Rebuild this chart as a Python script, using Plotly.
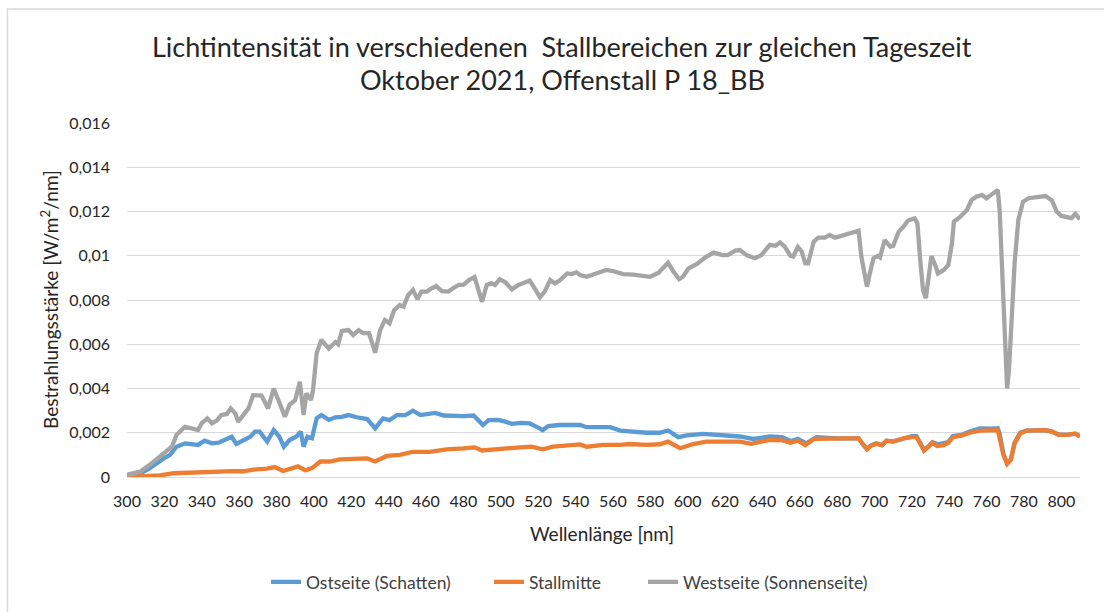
import plotly.graph_objects as go

# ---------------- data ----------------
wl_west = [300, 307, 312, 317.5, 321, 324, 326.5, 331, 334.5, 338, 340, 343, 345.5, 348, 350.5,
           353.5, 355.5, 358, 359.5, 362.5, 365, 367.5, 372, 375.5, 378.5, 381, 384.5, 387, 390,
           392.5, 394.5, 396, 398.5, 399.5, 401.5, 404, 408, 411.5, 413, 415, 418.5, 421, 424,
           426.5, 429.5, 432.8, 435.5, 438, 440.5, 443, 446, 448, 450.5, 453, 455.5, 457.5, 460.5,
           462.5, 465.5, 468.5, 472, 474.5, 477.5, 480, 483, 486, 488, 490, 492.5, 495, 497, 499.5,
           502.5, 506, 509.5, 512.5, 515.5, 518.5, 521, 523.5, 526.5, 529, 531.5, 535.5, 538, 540.5,
           542.5, 546, 551.5, 556.5, 560.5, 565.5, 571, 576.5, 580, 584.5, 587.5, 589.5, 592.5,
           595.5, 597.5, 600.5, 605, 609.5, 614, 618.5, 621.5, 625.5, 628, 631.5, 636, 639.5, 644,
           647, 649.5, 652, 655, 656.5, 659, 661, 663, 664.5, 667.5, 670, 673.5, 676, 679, 682.5,
           687, 691.5, 693, 695, 696, 697.5, 699.5, 702, 703, 705.5, 708.5, 710, 713, 715.5, 718,
           721.5, 723, 724.5, 726, 727.5, 729, 730.5, 732.5, 734, 737, 739.5, 741.5, 742.5, 746,
           749.5, 752, 754.5, 757.5, 760, 763.5, 766, 767, 768.5, 770, 771, 772, 773.5, 775, 777,
           779.5, 782.5, 787, 791.5, 795, 797.5, 800, 803, 805.5, 807.5, 809, 810]
west = [0.0001, 0.00024, 0.00054, 0.00092, 0.00117, 0.00137, 0.0019, 0.00227, 0.0022, 0.00212,
        0.00243, 0.00265, 0.00243, 0.00255, 0.0028, 0.00285, 0.0031, 0.00287, 0.0025, 0.00287,
        0.0031, 0.0037, 0.00368, 0.0031, 0.004, 0.00348, 0.00273, 0.00326, 0.00348, 0.0043,
        0.0028, 0.00378, 0.00348, 0.0039, 0.0056, 0.0062, 0.0058, 0.0061, 0.006, 0.0066, 0.00664,
        0.00642, 0.00664, 0.0065, 0.0065, 0.00562, 0.00664, 0.0071, 0.00695, 0.00755, 0.00777,
        0.0077, 0.00823, 0.00845, 0.00803, 0.00838, 0.00838, 0.0085, 0.00863, 0.0084, 0.00838,
        0.00853, 0.00868, 0.00868, 0.0089, 0.00903, 0.00838, 0.00792, 0.00868, 0.00875, 0.00868,
        0.00894, 0.0088, 0.00848, 0.00868, 0.0088, 0.00888, 0.00848, 0.00812, 0.00838, 0.0089,
        0.00875, 0.00888, 0.0092, 0.00917, 0.00925, 0.00913, 0.00905, 0.00923, 0.00936, 0.0093,
        0.00917, 0.00915, 0.0091, 0.00905, 0.00923, 0.0095, 0.00968, 0.00928, 0.00894, 0.00905,
        0.00943, 0.00963, 0.00993, 0.01014, 0.01003, 0.01003, 0.01023, 0.01026, 0.01003, 0.00989,
        0.01003, 0.01049, 0.01045, 0.0106, 0.01041, 0.01, 0.00996, 0.0104, 0.0102, 0.00966,
        0.00966, 0.01064, 0.01082, 0.01082, 0.01094, 0.01082, 0.0109, 0.01101, 0.01113, 0.00996,
        0.00898, 0.0086, 0.0092, 0.00989, 0.01, 0.00993, 0.01071, 0.01041, 0.01044, 0.01109,
        0.01131, 0.01159, 0.01169, 0.01147, 0.0098, 0.00845, 0.00808, 0.00905, 0.00999, 0.00958,
        0.0092, 0.00935, 0.00958, 0.01056, 0.01154, 0.01177, 0.01207, 0.01252, 0.01267, 0.01275,
        0.0126, 0.01282, 0.01297, 0.01207, 0.0086, 0.00544, 0.004, 0.00484, 0.0071, 0.00966,
        0.01162, 0.01244, 0.0126, 0.01267, 0.0127, 0.0125, 0.012, 0.0118, 0.01177, 0.0117,
        0.0119, 0.01177, 0.01165]

wl_ost = [300, 307, 312, 316, 319.5, 323, 326.5, 331, 334.5, 338, 341.5, 345.5, 349, 352.5, 356,
          358.5, 362.5, 366, 368.5, 371, 375, 378.5, 381.5, 384, 387, 390.5, 393, 394.5, 396.5,
          399, 401.5, 404, 408, 411.5, 415, 418.5, 423, 428.5, 432.8, 437, 440.5, 444.5, 449, 453,
          457, 460.5, 465, 469.5, 474.5, 480, 485.5, 488, 490.5, 493.5, 498.5, 502.5, 506, 510.5,
          515.5, 519, 522.5, 525.5, 531.5, 538.5, 542.5, 546, 552, 558.5, 564, 571, 578, 585,
          589.5, 595, 599.5, 608.5, 617, 628, 635, 644, 650.5, 655.5, 659, 663.5, 669, 676, 680,
          685, 691.5, 694, 696, 698.5, 701, 704, 706.5, 710, 715.5, 720, 722.5, 724.5, 726.5, 729,
          731, 734, 737, 739.5, 742, 746.5, 751, 756.5, 762, 766, 767, 769, 771, 773, 775, 778,
          781.5, 787, 791.5, 795, 798.5, 803, 807.5, 810]
ost = [0.00008, 0.00015, 0.00039, 0.00065, 0.00083, 0.001, 0.00137, 0.00152, 0.00149, 0.00145,
       0.00164, 0.00152, 0.00155, 0.00168, 0.00182, 0.00149, 0.00168, 0.00182, 0.00205, 0.00205,
       0.0016, 0.00212, 0.00182, 0.00137, 0.00167, 0.00182, 0.00205, 0.00137, 0.00182, 0.00175,
       0.00265, 0.0028, 0.00258, 0.0027, 0.00272, 0.0028, 0.0027, 0.00262, 0.0022, 0.00265,
       0.00257, 0.0028, 0.0028, 0.003, 0.0028, 0.00285, 0.0029, 0.00278, 0.00275, 0.00275,
       0.00278, 0.00257, 0.00235, 0.00257, 0.00258, 0.0025, 0.0024, 0.00245, 0.00242, 0.00228,
       0.00212, 0.0023, 0.00235, 0.00235, 0.00235, 0.00225, 0.00227, 0.00225, 0.0021, 0.00205,
       0.002, 0.002, 0.0021, 0.0018, 0.00188, 0.00195, 0.0019, 0.00183, 0.00172, 0.00183, 0.0018,
       0.00162, 0.00172, 0.00152, 0.0018, 0.00175, 0.00175, 0.00175, 0.00175, 0.00144, 0.00128,
       0.00144, 0.00152, 0.00144, 0.00164, 0.0016, 0.00175, 0.00185, 0.00185, 0.00155, 0.00122,
       0.0014, 0.00157, 0.00148, 0.00152, 0.00158, 0.00185, 0.0019, 0.00205, 0.0022, 0.00218,
       0.0022, 0.00195, 0.00105, 0.00062, 0.0008, 0.00155, 0.002, 0.0021, 0.00212, 0.00212,
       0.00205, 0.00192, 0.0019, 0.00195, 0.00185]

wl_mitte = [300, 310.5, 317.5, 325, 332, 341, 350, 357, 362.5, 367.5, 375, 379, 383.5, 387, 391.5,
            395.5, 399, 403.5, 408.5, 414, 421, 428.5, 432.8, 439, 446, 453, 462, 471, 480, 486,
            490, 496, 503, 510.5, 516.5, 522.5, 528, 535.5, 542.5, 546, 555, 564, 569, 578, 585,
            589.5, 596, 603, 610, 621, 628, 634, 644, 650.5, 655, 659, 663, 667.5, 676, 685, 691.5,
            694, 696, 698.5, 701, 704, 706.5, 710, 715.5, 720, 722.5, 724.5, 726.5, 729, 731, 733.5,
            737, 739.5, 742, 746.5, 751, 756.5, 762, 766, 767, 769, 771, 773, 775, 778, 781.5, 787,
            791.5, 795, 798.5, 803, 807.5, 810]
mitte = [0.0, 0.00002, 0.00007, 0.00017, 0.0002, 0.00023, 0.00023, 0.00027, 0.00026, 0.00033,
         0.00038, 0.00045, 0.00027, 0.00038, 0.00048, 0.0003, 0.0004, 0.0007, 0.0007, 0.0008,
         0.00084, 0.00084, 0.0007, 0.00095, 0.001, 0.00114, 0.00114, 0.00125, 0.00129, 0.00134,
         0.0012, 0.00125, 0.00129, 0.00134, 0.00137, 0.00125, 0.00137, 0.00144, 0.00147, 0.00137,
         0.00145, 0.00145, 0.00149, 0.00145, 0.00148, 0.0016, 0.0013, 0.00149, 0.0016, 0.0016,
         0.0016, 0.0015, 0.00168, 0.00166, 0.00155, 0.00164, 0.00144, 0.00172, 0.00175, 0.00175,
         0.00175, 0.00144, 0.00125, 0.00144, 0.0015, 0.00144, 0.00164, 0.0016, 0.00175, 0.0018,
         0.0018, 0.0015, 0.00119, 0.00137, 0.00155, 0.0014, 0.00144, 0.00155, 0.0018, 0.00187,
         0.002, 0.0021, 0.0021, 0.00212, 0.00175, 0.001, 0.00059, 0.00077, 0.00152, 0.00197,
         0.0021, 0.0021, 0.00212, 0.00205, 0.0019, 0.0019, 0.00197, 0.00182]

series_names = ["Ostseite (Schatten)", "Stallmitte", "Westseite (Sonnenseite)"]
series_colors = ["#5B9BD5", "#ED7D31", "#A5A5A5"]

x_tick_vals = list(range(300, 801, 20))
x_tick_text = [str(v) for v in x_tick_vals]
y_tick_vals = [0, 0.002, 0.004, 0.006, 0.008, 0.01, 0.012, 0.014, 0.016]
y_tick_text = ["0", "0,002", "0,004", "0,006", "0,008", "0,01", "0,012", "0,014", "0,016"]

title_line1 = "Lichtintensität in verschiedenen\u00a0 Stallbereichen zur gleichen Tageszeit"
title_line2 = "Oktober 2021, Offenstall P 18_BB"
x_title = "Wellenlänge [nm]"
y_title = "Bestrahlungsstärke [W/m<sup>2</sup>/nm]"

# ---------------- figure ----------------
FONT = "Lato, 'Open Sans', sans-serif"
TEXT = "#262626"

W, H = 1104, 612
L, R, T, B = 127, 24, 123, 135
pw, ph = W - L - R, H - T - B


def px_to_paper(x, y):
    return (x - L) / pw, (H - B - y) / ph


legend_ids = ["legend", "legend2", "legend3"]
legend_left_px = [266, 489, 643]

fig = go.Figure()
for wl, vals, name, col, lid in [(wl_ost, ost, series_names[0], series_colors[0], legend_ids[0]),
                                 (wl_mitte, mitte, series_names[1], series_colors[1], legend_ids[1]),
                                 (wl_west, west, series_names[2], series_colors[2], legend_ids[2])]:
    fig.add_trace(go.Scatter(x=wl, y=vals, mode="lines", name=name, legend=lid,
                             line=dict(color=col, width=4.3)))

ann = []
for txt, (cx, cy), size in [(title_line1, (562, 46), 27), (title_line2, (562, 80), 27)]:
    xp, yp = px_to_paper(cx, cy)
    ann.append(dict(text=txt, x=xp, y=yp, xref="paper", yref="paper", showarrow=False,
                    xanchor="center", yanchor="middle", font=dict(size=size, color=TEXT, family=FONT)))
xp, yp = px_to_paper(602, 533)
ann.append(dict(text=x_title, x=xp, y=yp, xref="paper", yref="paper", showarrow=False,
                xanchor="center", yanchor="middle", font=dict(size=19, color=TEXT, family=FONT)))
xp, yp = px_to_paper(49, 300)
ann.append(dict(text=y_title, x=xp, y=yp, xref="paper", yref="paper", showarrow=False, textangle=-90,
                xanchor="center", yanchor="middle", font=dict(size=19, color=TEXT, family=FONT)))

bx0, by0 = px_to_paper(7.5, 9)
bx1, by1 = px_to_paper(1140, 640)

legends = {}
for lid, lpx in zip(legend_ids, legend_left_px):
    lx, ly = px_to_paper(lpx, 582)
    legends[lid] = dict(orientation="h", x=lx, y=ly, xanchor="left", yanchor="middle",
                        font=dict(size=17.5, color="#404040", family=FONT),
                        bgcolor="rgba(0,0,0,0)", borderwidth=0)

fig.update_layout(
    width=W, height=H,
    margin=dict(l=L, r=R, t=T, b=B, autoexpand=False),
    paper_bgcolor="white", plot_bgcolor="white",
    font=dict(family=FONT, color=TEXT, size=16),
    showlegend=True,
    annotations=ann,
    shapes=[dict(type="rect", xref="paper", yref="paper", x0=bx0, y0=by1, x1=bx1, y1=by0,
                 line=dict(color="#D9D9D9", width=1.5), fillcolor="rgba(0,0,0,0)", layer="below")],
    xaxis=dict(range=[300, 810], tickvals=x_tick_vals, ticktext=x_tick_text, showgrid=False,
               zeroline=False, showline=True, linecolor="#D9D9D9", linewidth=1, ticks="",
               ticklabelstandoff=10, tickfont=dict(size=16, color=TEXT, family=FONT)),
    yaxis=dict(range=[0, 0.016], tickvals=y_tick_vals, ticktext=y_tick_text, showgrid=True,
               gridcolor="#D9D9D9", gridwidth=1, zeroline=False, showline=False, ticks="",
               ticklabelstandoff=16, tickfont=dict(size=16, color=TEXT, family=FONT)),
    **legends,
)

fig.write_html("out.html", config={"displayModeBar": False},
               post_script="document.body.style.margin='0px';")
